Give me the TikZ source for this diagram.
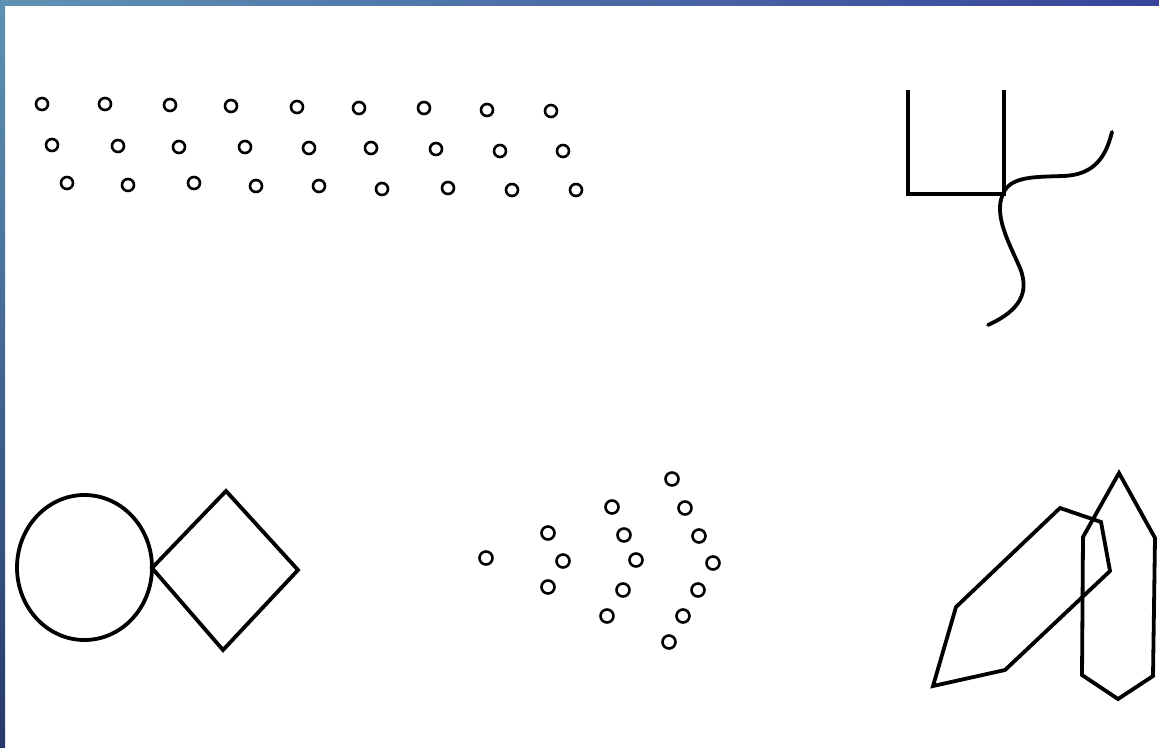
\documentclass[tikz,border=0pt]{standalone}
\usepackage{xcolor}
\usepackage{tikz}
\usetikzlibrary{calc}
\definecolor{bandteal}{HTML}{5E93B4}
\definecolor{bandnavy}{HTML}{38449A}
\definecolor{edgedark}{HTML}{26386E}
\definecolor{ink}{HTML}{000000}
\tikzset{
  spot/.style={draw=ink,line width=2.6pt},
  outline/.style={draw=ink,line width=3.8pt,line join=miter},
  wave/.style={draw=ink,line width=3.8pt,line cap=round}
}

\begin{document}
\begin{tikzpicture}[x=1pt,y=-1pt]
  \useasboundingbox (0,0) rectangle (1159,747);
  \fill[white] (0,0) rectangle (1159,747);
  % Frame bands
  \shade[left color=bandteal,right color=bandnavy] (0,0) rectangle (1159,5);
  \shade[top color=bandteal,bottom color=edgedark] (0,0) rectangle (5,747);

  % Rows of small circles
  \foreach \x/\y in {42/104,105/104,170/105,231/106,297/107,359/108,424/108,487/110,551/111}
    \draw[spot] (\x,\y) circle (6);
  \foreach \x/\y in {52/145,118/146,179/147,245/147,309/148,371/148,436/149,500/151,563/151}
    \draw[spot] (\x,\y) circle (6);
  \foreach \x/\y in {67/183,128/185,194/183,256/186,319/186,382/189,448/188,512/190,576/190}
    \draw[spot] (\x,\y) circle (6);

  % Lines and curves
  \draw[outline] (908,90) -- (908,194) -- (1004,194) -- (1004,90);
  \draw[wave] (1003,194) .. controls (1010,176) and (1035,177) .. (1063,176)
    .. controls (1095,175) and (1106,156) .. (1112,132);
  \draw[wave] (1003,194) .. controls (993,215) and (1010,245) .. (1020,268)
    .. controls (1032,298) and (1012,314) .. (988,325);

  % Circle and square
  \draw[outline] (84.5,567.5) ellipse (67.5 and 72.5);
  \draw[outline] (152,568) -- (226,491) -- (298,570) -- (223,650) -- cycle;

  % Arrow-shaped cluster of circles
  \foreach \x/\y in {486/558,548/533,563/561,548/587,612/507,624/535,636/560,623/590,607/616,
                     672/479,685/508,699/536,713/563,698/590,683/616,669/642}
    \draw[spot] (\x,\y) circle (6.5);

  % Overlapping polygons
  \draw[outline] (1060,508) -- (1101,522) -- (1110,571) -- (1005,670) -- (933,686) -- (956,607) -- cycle;
  \draw[outline] (1119,473) -- (1155,538) -- (1153,676) -- (1118,699) -- (1082,675) -- (1083,537) -- cycle;
\end{tikzpicture}
\end{document}
